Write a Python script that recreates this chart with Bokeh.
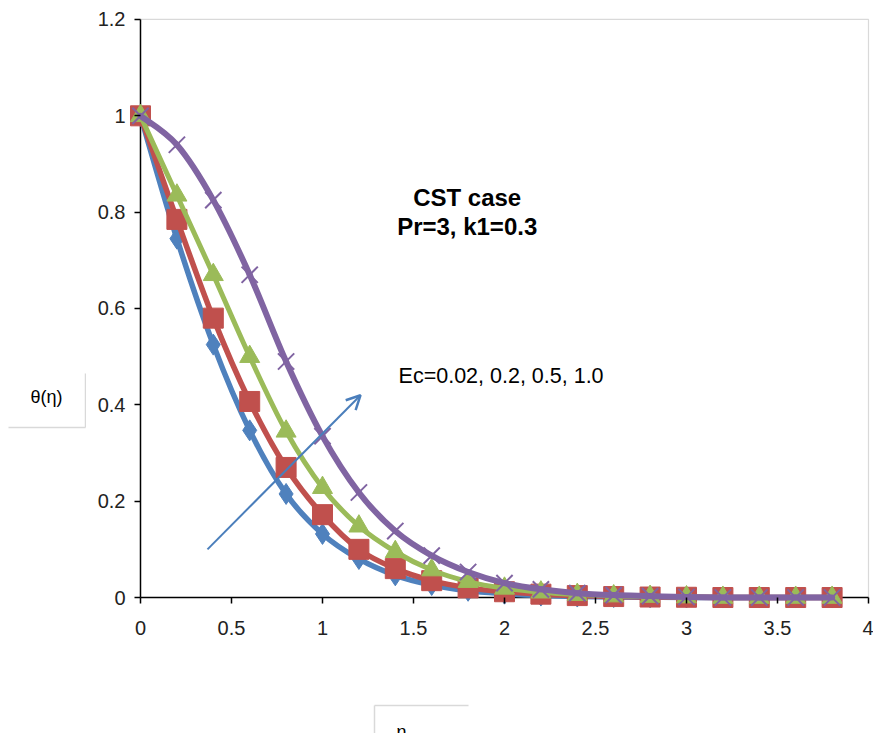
from bokeh.plotting import figure
from bokeh.models import Range1d, FixedTicker, Label, Arrow, OpenHead
from bokeh.layouts import row, column
from bokeh.core.properties import value
from bokeh.embed import file_html
from bokeh.resources import INLINE

eta = [0.0, 0.2, 0.4, 0.6, 0.8, 1.0, 1.2, 1.4, 1.6, 1.8, 2.0, 2.2, 2.4, 2.6, 2.8, 3.0, 3.2, 3.4, 3.6, 3.8]
theta_ec002 = [1.0, 0.745, 0.525, 0.347, 0.215, 0.132, 0.080, 0.046, 0.026, 0.014, 0.008, 0.004, 0.002, 0.001, 0.0005, 0.0, 0.0, 0.0, 0.0, 0.0]
theta_ec02 = [1.0, 0.785, 0.58, 0.407, 0.27, 0.172, 0.10, 0.06, 0.035, 0.02, 0.012, 0.007, 0.004, 0.002, 0.001, 0.0005, 0.0, 0.0, 0.0, 0.0]
theta_ec05 = [1.0, 0.835, 0.67, 0.50, 0.345, 0.228, 0.148, 0.095, 0.057, 0.033, 0.019, 0.011, 0.006, 0.003, 0.002, 0.001, 0.0, 0.0, 0.0, 0.0]
theta_ec10 = [1.0, 0.94, 0.825, 0.67, 0.49, 0.335, 0.218, 0.138, 0.087, 0.053, 0.030, 0.017, 0.009, 0.005, 0.003, 0.001, 0.0, 0.0, 0.0, 0.0]

x_ticks = [0, 0.5, 1, 1.5, 2, 2.5, 3, 3.5, 4]
x_tick_labels = ["0", "0.5", "1", "1.5", "2", "2.5", "3", "3.5", "4"]
y_ticks = [0, 0.2, 0.4, 0.6, 0.8, 1.0, 1.2]
y_tick_labels = ["0", "0.2", "0.4", "0.6", "0.8", "1", "1.2"]

y_title = "θ(η)"
x_title = "η"

X_MIN, X_MAX = 0.0, 4.0
Y_MIN, Y_MAX = 0.0, 1.2

FONT = "Liberation Sans"
GRAY = "#d9d9d9"

# ---------------- main chart ----------------
# frame reaches a few pixels past the axes so markers sitting on 0 are drawn whole
p = figure(width=787, height=700, output_backend="svg", toolbar_location=None,
           x_range=Range1d(X_MIN - 0.0659, X_MAX + 0.011),
           y_range=Range1d(Y_MIN - 0.0228, Y_MAX + 0.0041),
           min_border_left=42, min_border_right=3, min_border_top=17, min_border_bottom=92)
p.grid.visible = False
p.outline_line_color = None

for ax in (p.xaxis, p.yaxis):
    ax.axis_line_color = None
    ax.major_tick_line_color = "black"
    ax.major_tick_line_width = 1.5
    ax.minor_tick_line_color = None
    ax.major_label_text_font = FONT
    ax.major_label_text_font_size = "20px"
    ax.major_label_text_color = "#222222"

# ticks start on the drawn axis line and point 6 px outward
p.xaxis.major_tick_in = 11
p.xaxis.major_tick_out = -5
p.yaxis.major_tick_in = 12
p.yaxis.major_tick_out = -6

p.xaxis.ticker = FixedTicker(ticks=x_ticks)
p.yaxis.ticker = FixedTicker(ticks=y_ticks)
p.xaxis.major_label_overrides = {t: l for t, l in zip(x_ticks, x_tick_labels)}
p.yaxis.major_label_overrides = {t: l for t, l in zip(y_ticks, y_tick_labels)}
p.xaxis.major_label_standoff = 12
p.yaxis.major_label_standoff = 3

# light plot-area border (top and right) and black axis lines at 0
p.line([X_MIN, X_MAX, X_MAX], [Y_MAX, Y_MAX, Y_MIN], line_color=GRAY, line_width=1.2)
p.line([X_MIN, X_MAX], [Y_MIN, Y_MIN], line_color="black", line_width=1.5)
p.line([X_MIN, X_MIN], [Y_MIN, Y_MAX], line_color="black", line_width=1.5)


def smooth_segments(xs, ys):
    """Bezier segments through the data points (spreadsheet-style smoothed line)."""
    n = len(xs)
    seg = {k: [] for k in ("x0", "y0", "x1", "y1", "cx0", "cy0", "cx1", "cy1")}
    for i in range(n - 1):
        a = max(i - 1, 0)
        b = min(i + 2, n - 1)
        seg["x0"].append(xs[i]); seg["y0"].append(ys[i])
        seg["x1"].append(xs[i + 1]); seg["y1"].append(ys[i + 1])
        seg["cx0"].append(xs[i] + (xs[i + 1] - xs[a]) / 6.0)
        seg["cy0"].append(ys[i] + (ys[i + 1] - ys[a]) / 6.0)
        seg["cx1"].append(xs[i + 1] - (xs[b] - xs[i]) / 6.0)
        seg["cy1"].append(ys[i + 1] - (ys[b] - ys[i]) / 6.0)
    return seg


blue, red, green, purple = "#4F81BD", "#C0504D", "#9BBB59", "#8064A2"

series = [
    (theta_ec002, blue, 5.5, dict(marker="diamond", size=21, fill_color=blue, line_color=blue)),
    (theta_ec02, red, 5.5, dict(marker="square", size=20, fill_color=red, line_color=red)),
    (theta_ec05, green, 5.0, dict(marker="triangle", size=20, fill_color=green, line_color=green)),
    (theta_ec10, purple, 6.0, dict(marker="x", size=23, line_color=purple, line_width=2)),
]
for ys, col, lw, mk in series:
    s = smooth_segments(eta, ys)
    p.bezier(x0=s["x0"], y0=s["y0"], x1=s["x1"], y1=s["y1"],
             cx0=s["cx0"], cy0=s["cy0"], cx1=s["cx1"], cy1=s["cy1"],
             line_color=col, line_width=lw, line_cap="round")
    p.scatter(eta, ys, **mk)

p.add_layout(Arrow(end=OpenHead(size=14, line_color="#4A7EBB", line_width=2.5),
                   x_start=0.368, y_start=0.10, x_end=1.209, y_end=0.42,
                   line_color="#4A7EBB", line_width=2))

p.add_layout(Label(x=1.795, y=0.831, text="CST case", text_font=FONT, text_font_style="bold",
                   text_font_size="24px", text_align="center", text_baseline="middle", text_color="black"))
p.add_layout(Label(x=1.795, y=0.771, text="Pr=3, k1=0.3", text_font=FONT, text_font_style="bold",
                   text_font_size="24px", text_align="center", text_baseline="middle", text_color="black"))
p.add_layout(Label(x=1.418, y=0.459, text="Ec=0.02, 0.2, 0.5, 1.0", text_font=FONT,
                   text_font_size="21.5px", text_align="left", text_baseline="middle", text_color="black"))

def blank(width, height, x0, x1, y0, y1):
    f = figure(width=width, height=height, output_backend="svg", toolbar_location=None,
               x_range=Range1d(x0, x1), y_range=Range1d(y0, y1),
               min_border=0, x_axis_location=None, y_axis_location=None)
    f.grid.visible = False
    f.outline_line_color = None
    return f

# ---------------- y title panel (left) ----------------
# its frame is aligned with the main frame (top 17 px, bottom 608 px)
left = blank(86, 700, 0, 86, 608, 17)
left.line([85, 85], [373, 427], line_color=GRAY, line_width=1.5)
left.line([8, 85], [427, 427], line_color=GRAY, line_width=1.5)
left.text(x=[46], y=[396], text=[y_title], text_font=value(FONT), text_font_size="18px",
          text_align="center", text_baseline="middle", text_color="black")

# ---------------- x title panel (bottom) ----------------
bottom = blank(873, 33, 0, 873, 733, 700)
bottom.line([374, 468], [705, 705], line_color=GRAY, line_width=1.5)
bottom.line([374, 374], [705, 733], line_color=GRAY, line_width=1.5)
bottom.text(x=[401], y=[721], text=[x_title], text_font=value(FONT), text_font_size="18px",
            text_align="center", text_baseline="top", text_color="black")

layout = column(row(left, p, spacing=0), bottom, spacing=0)
open("out.html", "w").write(file_html(layout, INLINE))
